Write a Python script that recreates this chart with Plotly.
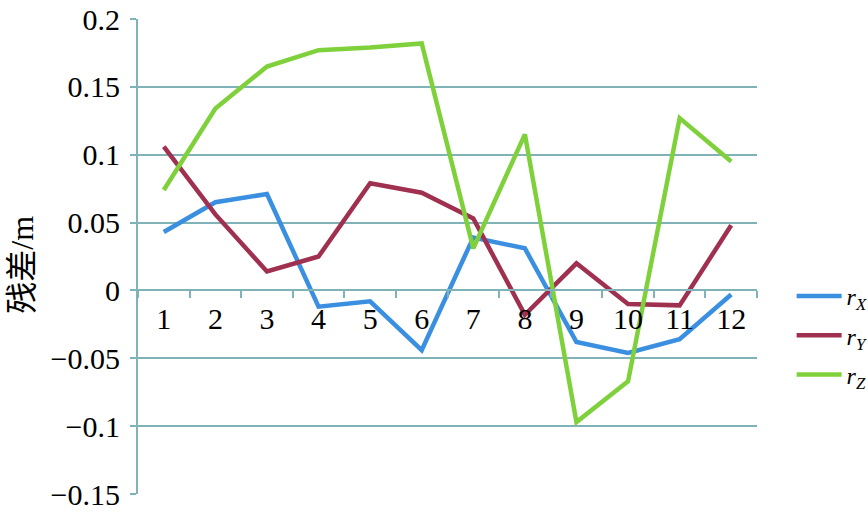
import plotly.graph_objects as go

# residuals per point (m)
points = list(range(1, 13))
point_labels = [str(p) for p in points]
r_x = [0.043, 0.065, 0.071, -0.012, -0.008, -0.044, 0.039, 0.031, -0.038, -0.046, -0.036, -0.003]
r_y = [0.106, 0.056, 0.014, 0.025, 0.079, 0.072, 0.053, -0.018, 0.020, -0.010, -0.011, 0.048]
r_z = [0.074, 0.134, 0.165, 0.177, 0.179, 0.182, 0.031, 0.115, -0.097, -0.067, 0.127, 0.095]

y_ticks = [-0.15, -0.1, -0.05, 0, 0.05, 0.1, 0.15, 0.2]
y_ticktext = ["−0.15", "−0.1", "−0.05", "0", "0.05", "0.1", "0.15", "0.2"]

series = [
    ("<i>r</i><sub><i>X</i></sub>", r_x, "#3b8fe0"),
    ("<i>r</i><sub><i>Y</i></sub>", r_y, "#a0304f"),
    ("<i>r</i><sub><i>Z</i></sub>", r_z, "#7fd13b"),
]

GRID = "#80b3b8"
FONT = "Liberation Serif"

fig = go.Figure()
for name, vals, color in series:
    fig.add_trace(go.Scatter(x=points, y=vals, mode="lines", name=name,
                             legendgroup=name,
                             line=dict(color=color, width=4.5)))

y_lo, y_hi = -0.15, 0.2

fig.update_xaxes(
    range=[0.5, len(points) + 0.5], automargin=False,
    tickmode="array", tickvals=points, ticktext=point_labels,
    ticks="", showgrid=False, zeroline=False,
    showline=True, linecolor=GRID, linewidth=2,
    anchor="free", position=(0 - y_lo) / (y_hi - y_lo),
    ticklabelstandoff=2,
    tickfont=dict(family=FONT, size=30, color="black"),
    minor=dict(ticks="outside", ticklen=7, tickwidth=2, tickcolor=GRID,
               tickmode="array", tickvals=[p - 0.5 for p in points] + [len(points) + 0.5],
               showgrid=False),
)
fig.update_yaxes(
    range=[y_lo, y_hi], automargin=False,
    tickmode="array", tickvals=y_ticks, ticktext=y_ticktext,
    showgrid=True, gridcolor=GRID, gridwidth=2, zeroline=False,
    showline=True, linecolor=GRID, linewidth=2,
    ticks="outside", ticklen=6, tickwidth=2, tickcolor=GRID,
    ticklabelstandoff=4,
    tickfont=dict(family=FONT, size=30, color="black"),
)

fig.add_annotation(
    text="残差/m", textangle=-90, showarrow=False,
    xref="paper", yref="paper", x=-0.188, y=0.482, xanchor="center", yanchor="middle",
    font=dict(family="Liberation Serif, Noto Sans CJK SC", size=32, color="black"),
)

fig.update_layout(
    width=868, height=516,
    margin=dict(l=138, r=111, t=19, b=22),
    paper_bgcolor="white", plot_bgcolor="white",
    font=dict(family=FONT, color="black"),
    showlegend=True,
    legend=dict(xref="container", yref="container", x=0.912, y=0.35,
                xanchor="left", yanchor="middle",
                itemwidth=45, tracegroupgap=5, bgcolor="rgba(0,0,0,0)",
                font=dict(family=FONT, size=24, color="black")),
)

fig.write_html("out.html", config={"displayModeBar": False},
               post_script="document.body.style.margin='0';")
